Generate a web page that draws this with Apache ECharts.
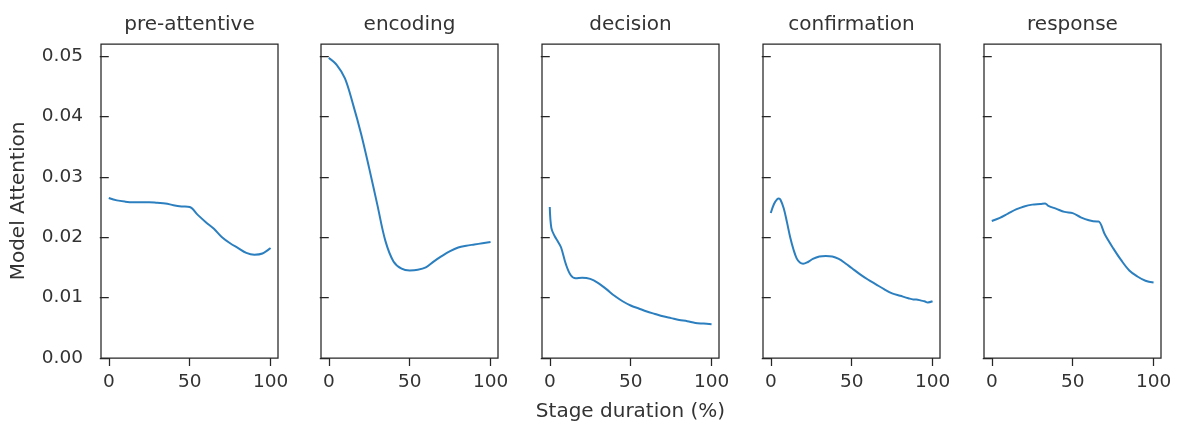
<!DOCTYPE html>
<html>
<head>
<meta charset="utf-8">
<script src="https://cdn.jsdelivr.net/npm/echarts@6/dist/echarts.min.js"></script>
<style>html,body{margin:0;padding:0;background:#fff}#c{width:1177px;height:423px}</style>
</head>
<body>
<div id="c"></div>
<script>
const stages = ['pre-attentive', 'encoding', 'decision', 'confirmation', 'response'];
const xTickValues = [0, 50, 100];
const yTickValues = [0, 0.01, 0.02, 0.03, 0.04, 0.05];

const preX = [0,5,10,15,20,25,30,35,40,45,50,55,60,65,70,75,80,85,90,95,100];
const preY = [0.0265,0.0261,0.0259,0.0258,0.0258,0.0258,0.0257,0.0256,0.0253,0.0251,0.0250,0.0237,0.0225,0.0214,0.0200,0.0190,0.0182,0.0174,0.0171,0.0173,0.0182];

const encX = [0,5,10,15,20,25,30,35,40,45,50,55,60,65,70,75,80,85,90,95,100];
const encY = [0.0497,0.0485,0.0463,0.0420,0.0371,0.0314,0.0254,0.0194,0.0160,0.0148,0.0145,0.0146,0.0150,0.0160,0.0169,0.0177,0.0183,0.0186,0.0188,0.0190,0.0192];

const decX = [0,1,3,5,7,10,13,16,20,25,30,35,40,45,50,55,60,65,70,75,80,85,90,95,100];
const decY = [0.0250,0.0215,0.0202,0.0193,0.0183,0.0155,0.0137,0.0132,0.0133,0.0131,0.0124,0.0114,0.0103,0.0094,0.0087,0.0082,0.0077,0.0073,0.0069,0.0066,0.0063,0.0061,0.0058,0.0057,0.0056];

const conX = [0,2,4,5,6,8,10,12,14,16,18,20,23,26,30,34,38,42,46,50,55,60,65,70,75,80,85,88,90,93,95,97,100];
const conY = [0.0240,0.0255,0.0263,0.0264,0.0262,0.0248,0.0225,0.0200,0.0180,0.0165,0.0158,0.0156,0.0159,0.0164,0.0168,0.0169,0.0168,0.0164,0.0157,0.0149,0.0139,0.0130,0.0122,0.0114,0.0107,0.0103,0.0099,0.0097,0.0097,0.0095,0.0094,0.0092,0.0094];

const resX = [0,5,10,15,20,25,30,33,35,40,45,50,55,60,65,66,70,75,80,85,90,95,100];
const resY = [0.0227,0.0232,0.0239,0.0246,0.0251,0.0254,0.0255,0.0256,0.0252,0.0247,0.0242,0.0240,0.0233,0.0228,0.0226,0.0226,0.0204,0.0182,0.0162,0.0145,0.0135,0.0128,0.0125];

const seriesX = [preX, encX, decX, conX, resX];
const seriesY = [preY, encY, decY, conY, resY];

const TXT = '#262626';
const LBL = '#333333';
const FONT = 'DejaVu Sans';
const lefts = [101, 321, 542, 763, 984];
const W = 177, TOP = 44, H = 314;

const grids = [], xAxes = [], yAxes = [], series = [], graphics = [];
stages.forEach((name, i) => {
  grids.push({left: lefts[i], top: TOP, width: W, height: H, show: true,
    borderColor: TXT, borderWidth: 1.25, backgroundColor: '#fff'});
  xAxes.push({type: 'value', gridIndex: i, min: -4.8, max: 104.6,
    axisLine: {show: false},
    axisTick: {show: true, inside: false, length: 8, lineStyle: {color: TXT, width: 1.25}, customValues: xTickValues},
    axisLabel: {show: true, margin: 15, color: LBL, fontSize: 18.5, fontFamily: FONT, customValues: xTickValues,
      formatter: v => String(Math.round(v))},
    splitLine: {show: false}});
  yAxes.push({type: 'value', gridIndex: i, min: 0, max: 0.052,
    axisLine: {show: false},
    axisTick: {show: true, inside: false, length: 9, lineStyle: {color: TXT, width: 1.25}, customValues: yTickValues},
    axisLabel: {show: i === 0, margin: 18, color: LBL, fontSize: 18.5, fontFamily: FONT, customValues: yTickValues,
      formatter: v => v.toFixed(2)},
    splitLine: {show: false}});
  series.push({type: 'line', xAxisIndex: i, yAxisIndex: i, showSymbol: false, symbol: 'none',
    smooth: 0.35,
    lineStyle: {color: '#2c7fbf', width: 2},
    data: seriesX[i].map((x, k) => [x, seriesY[i][k]])});
  graphics.push({type: 'text', x: lefts[i] + W / 2, y: 25,
    style: {text: name, fill: LBL, fontSize: 20, fontFamily: FONT, textAlign: 'center', textVerticalAlign: 'middle'}});
});
graphics.push({type: 'text', x: lefts[2] + W / 2, y: 412,
  style: {text: 'Stage duration (%)', fill: LBL, fontSize: 20, fontFamily: FONT, textAlign: 'center', textVerticalAlign: 'middle'}});
graphics.push({type: 'text', x: 19, y: TOP + H / 2, rotation: Math.PI / 2,
  style: {text: 'Model Attention', fill: LBL, fontSize: 20, fontFamily: FONT, textAlign: 'center', textVerticalAlign: 'middle'}});

const chart = echarts.init(document.getElementById('c'), null, {renderer: 'canvas'});
chart.setOption({
  animation: false,
  backgroundColor: '#fff',
  grid: grids, xAxis: xAxes, yAxis: yAxes, series: series,
  graphic: graphics
});
</script>
</body>
</html>
